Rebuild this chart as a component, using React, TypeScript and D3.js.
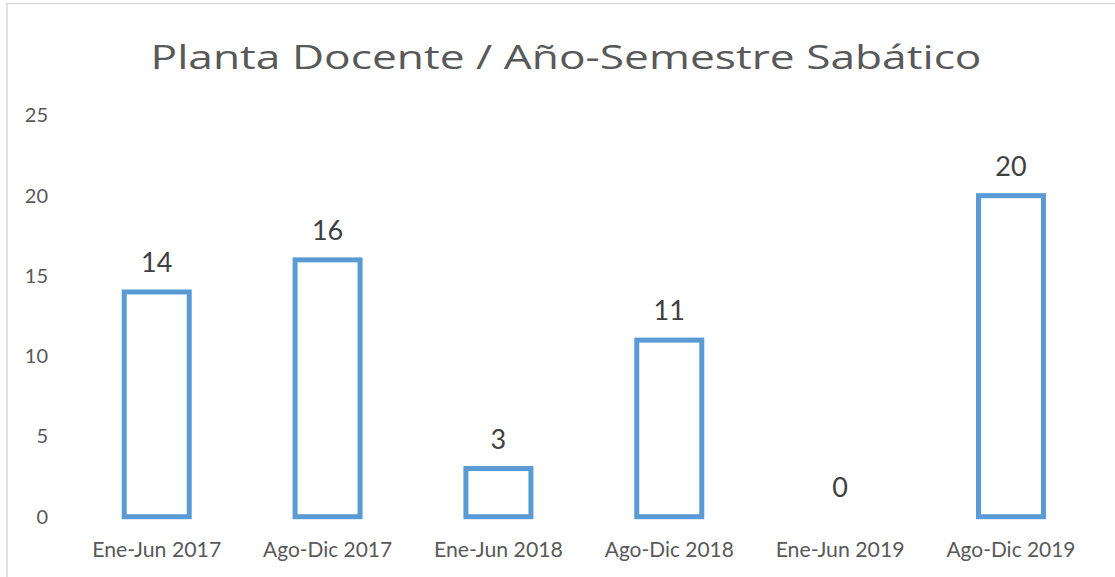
import React from "react";
import * as d3 from "d3";

const categories = ["Ene-Jun 2017", "Ago-Dic 2017", "Ene-Jun 2018", "Ago-Dic 2018", "Ene-Jun 2019", "Ago-Dic 2019"];
const values = [14, 16, 3, 11, 0, 20];
const yTicks = [0, 5, 10, 15, 20, 25];
const title = "Planta Docente / Año-Semestre Sabático";

const W = 1115;
const H = 577;
const FONT = "Lato, 'Open Sans', sans-serif";
const TITLE_FONT = "'Open Sans', Lato, sans-serif";

export default function App() {
  const x = d3.scaleBand<string>().domain(categories).range([71.3, 1096.4]).paddingInner(0).paddingOuter(0);
  const y = d3.scaleLinear().domain([0, 25]).range([516.7, 115.4]);
  const barW = 65;

  return (
    <svg width={W} height={H} style={{ position: "absolute", left: 0, top: 0, background: "#fff" }}>
      <rect x={7} y={3.5} width={W + 20} height={H + 20} fill="#fff" stroke="#d9d9d9" strokeWidth={1.5} />
      <text
        x={566}
        y={69.3}
        textAnchor="middle"
        fontFamily={TITLE_FONT}
        fontSize={33.5}
        fontWeight={400}
        fill="#595959"
        textLength={831}
        lengthAdjust="spacingAndGlyphs"
      >
        {title}
      </text>
      {yTicks.map((t) => (
        <text key={t} x={48} y={y(t)} dy="0.35em" textAnchor="end" fontFamily={FONT} fontSize={20} fill="#595959">
          {t}
        </text>
      ))}
      {categories.map((c, i) => {
        const cx = (x(c) as number) + x.bandwidth() / 2;
        const v = values[i];
        return (
          <g key={c}>
            {v > 0 && (
              <rect
                x={cx - barW / 2}
                y={y(v)}
                width={barW}
                height={y(0) - y(v)}
                fill="#fff"
                stroke="#5B9BD5"
                strokeWidth={5}
              />
            )}
            <text x={cx} y={y(v) - 20} textAnchor="middle" fontFamily={FONT} fontSize={27} fill="#404040">
              {v}
            </text>
            <text x={cx} y={556.7} textAnchor="middle" fontFamily={FONT} fontSize={20.5} fill="#595959" textLength={129} lengthAdjust="spacingAndGlyphs">
              {c}
            </text>
          </g>
        );
      })}
    </svg>
  );
}
